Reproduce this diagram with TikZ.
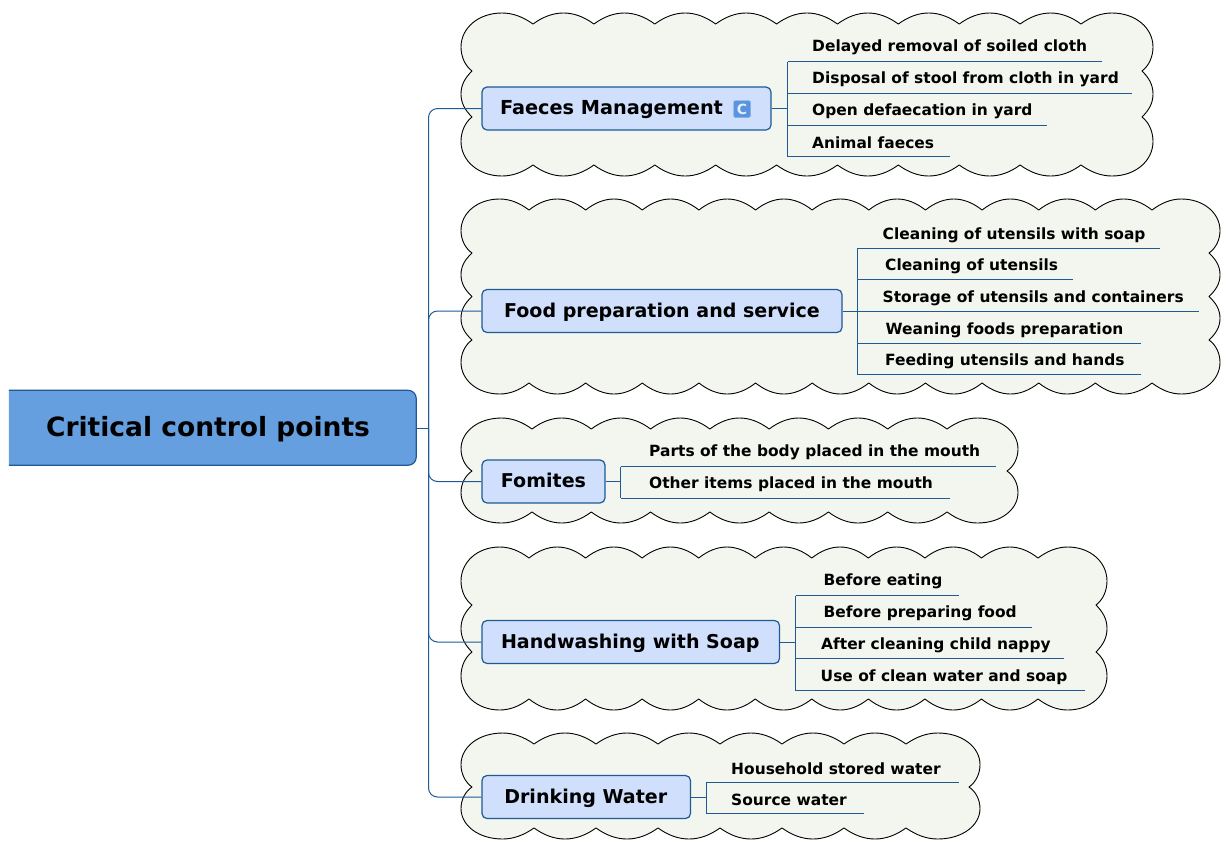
\documentclass[tikz,border=0pt]{standalone}
\usepackage{fontspec}
\setmainfont{DejaVu Sans}
\definecolor{linec}{HTML}{1F5A96}
\definecolor{cloudc}{HTML}{F3F6EE}
\definecolor{topicc}{HTML}{CFDFFC}
\definecolor{rootc}{HTML}{659FDF}
\definecolor{iconc}{HTML}{5A94DE}
\tikzset{
  conn/.style={draw=linec,line width=1pt},
  trunkline/.style={conn,rounded corners=9pt},
  cloudshape/.style={draw=black,fill=cloudc,line width=0.9pt,line join=round},
  topic/.style={draw=linec,fill=topicc,line width=1.2pt,rounded corners=5pt,inner sep=0pt,
    font=\bfseries\fontsize{19.05}{19.05}\selectfont,text height=14.5pt,text depth=2pt},
  leaf/.style={anchor=base west,inner sep=0pt,font=\bfseries\fontsize{15.45}{15.45}\selectfont},
}
% corner piece running from a top/bottom notch to a side notch
\newcommand\cornerF[7]{.. controls ({#1+(#3)*0.86*#5},{#2+(#4)*0.35*#6}) and ({#1+(#3)*0.72*#5},{#2}) .. ({#1+(#3)*0.57*#5},{#2})
 .. controls ({#1+(#3)*0.24*#5},{#2}) and ({#1},{#2+(#4)*0.26*#7}) .. ({#1},{#2+(#4)*0.586*#7})
 .. controls ({#1},{#2+(#4)*0.75*#7}) and ({#1+(#3)*4},{#2+(#4)*0.91*#7}) .. ({#1+(#3)*11},{#2+(#4)*#7})}
% same piece, side notch to top/bottom notch
\newcommand\cornerR[7]{.. controls ({#1+(#3)*4},{#2+(#4)*0.91*#7}) and ({#1},{#2+(#4)*0.75*#7}) .. ({#1},{#2+(#4)*0.586*#7})
 .. controls ({#1},{#2+(#4)*0.26*#7}) and ({#1+(#3)*0.24*#5},{#2}) .. ({#1+(#3)*0.57*#5},{#2})
 .. controls ({#1+(#3)*0.72*#5},{#2}) and ({#1+(#3)*0.86*#5},{#2+(#4)*0.35*#6}) .. ({#1+(#3)*#5},{#2+(#4)*#6})}
% \cloudshape{l}{t}{r}{b}{first notch}{last notch}{n notches}{first side notch y}{last side notch y}{n side notches}
\newcommand\cloudshape[9]{%
  \def\cL{#1}\def\cT{#2}\def\cR{#3}\def\cB{#4}\def\cF{#5}\def\cE{#6}\def\cN{#7}\def\cS{#8}\def\cZ{#9}%
  \cloudshapeC}
\newcommand\cloudshapeC[1]{%
  \pgfmathsetmacro\dx{(\cE-\cF)/(\cN-1)}
  \pgfmathsetmacro\dy{(#1>1)*(\cZ-\cS)/max(#1-1,1)}
  \pgfmathtruncatemacro\nx{\cN-2}
  \pgfmathtruncatemacro\ny{#1-2}
  \pgfmathsetmacro\wL{\cF-\cL}
  \pgfmathsetmacro\wR{\cR-\cE}
  \pgfmathsetmacro\hT{\cS-\cT}
  \pgfmathsetmacro\hB{\cB-\cZ}
  \path[cloudshape] ({\cF},{\cT+11})
    \foreach \i in {0,...,\nx} { .. controls ({\cF+\i*\dx+0.33*\dx},{\cT-3.67}) and ({\cF+\i*\dx+0.67*\dx},{\cT-3.67}) .. ({\cF+\i*\dx+\dx},{\cT+11}) }
    \cornerF{\cR}{\cT}{-1}{1}{\wR}{11}{\hT}
    \ifnum\ny>-1 \foreach \i in {0,...,\ny} { .. controls ({\cR-4},{\cS+\i*\dy+0.15*\dy}) and ({\cR},{\cS+\i*\dy+0.3*\dy}) .. ({\cR},{\cS+\i*\dy+0.5*\dy}) .. controls ({\cR},{\cS+\i*\dy+0.7*\dy}) and ({\cR-4},{\cS+\i*\dy+0.85*\dy}) .. ({\cR-11},{\cS+\i*\dy+\dy}) }\fi
    \cornerR{\cR}{\cB}{-1}{-1}{\wR}{11}{\hB}
    \foreach \i in {0,...,\nx} { .. controls ({\cE-\i*\dx-0.33*\dx},{\cB+3.67}) and ({\cE-\i*\dx-0.67*\dx},{\cB+3.67}) .. ({\cE-\i*\dx-\dx},{\cB-11}) }
    \cornerF{\cL}{\cB}{1}{-1}{\wL}{11}{\hB}
    \ifnum\ny>-1 \foreach \i in {0,...,\ny} { .. controls ({\cL+4},{\cZ-\i*\dy-0.15*\dy}) and ({\cL},{\cZ-\i*\dy-0.3*\dy}) .. ({\cL},{\cZ-\i*\dy-0.5*\dy}) .. controls ({\cL},{\cZ-\i*\dy-0.7*\dy}) and ({\cL+4},{\cZ-\i*\dy-0.85*\dy}) .. ({\cL+11},{\cZ-\i*\dy-\dy}) }\fi
    \cornerR{\cL}{\cT}{1}{1}{\wL}{11}{\hT}
    -- cycle;
}
\begin{document}
\begin{tikzpicture}[x=1pt,y=-1pt]
\useasboundingbox (0,0) rectangle (1224,847);
\newcommand\leaf[7]{%
  \coordinate (#1l) at (#2,#4);
  \coordinate (#1r) at (#3,#4);
  \node[leaf] (#1t) at (#5,#6) {#7};
  \draw[conn] (#1l) -- (#1r);
}
\newcommand\topicbox[7]{% name, l, t, r, b, shift, text
  \pgfmathsetmacro\tw{#4-#2}
  \pgfmathsetmacro\th{#5-#3}
  \node[topic,minimum width=\tw pt,minimum height=\th pt] (#1) at ({(#2+#4)/2},{(#3+#5)/2}) {\kern#6pt #7};
}
% clouds
\cloudshape{461}{13}{1153}{176}{533}{1081}{10}{71}{117}{2}
\cloudshape{461}{199}{1220}{394}{529}{1152}{12}{253}{340}{3}
\cloudshape{461}{418}{1018}{523}{532}{947}{8}{471}{471}{1}
\cloudshape{461}{547}{1107}{710}{529}{1038}{10}{605}{652}{2}
\cloudshape{461}{733}{980}{839}{534}{906}{7}{787}{787}{1}
% root
\node[minimum width=407pt,minimum height=74.5pt,inner sep=0pt] (root) at (212.5,427.75) {};
\fill[rootc] (root.north west) [rounded corners=8pt] -- (root.north east) -- (root.south east) [sharp corners] -- (root.south west) -- cycle;
\draw[conn,line width=1.2pt] (root.north west) [rounded corners=8pt] -- (root.north east) -- (root.south east) [sharp corners] -- (root.south west);
\node[inner sep=0pt,font=\bfseries\fontsize{26.5}{26.5}\selectfont,text height=18pt,text depth=1.5pt] (roottext) at (208,427.75) {Critical control points};
\coordinate (trunk) at (428.5,428.5);
% topics
\topicbox{faeces}{482}{87}{771}{130}{-30}{\fontsize{19.3}{19.3}\selectfont Faeces Management}
\topicbox{food}{482}{289.5}{842}{332.5}{0}{Food preparation and service}
\topicbox{fomites}{482}{460}{605}{503}{0}{Fomites}
\topicbox{hand}{482}{620.5}{779.5}{663.5}{-1}{Handwashing with Soap}
\topicbox{drink}{482}{775.5}{690.5}{818.5}{-1}{Drinking Water}
\node[fill=iconc,draw=iconc!70!white,rounded corners=1.5pt,minimum size=17pt,inner sep=0pt,text=white!85!iconc,font=\bfseries\fontsize{14}{14}\selectfont] (icon) at (742,109) {C};
% trunk connectors
\draw[conn] (root.east |- trunk) -- (trunk);
\foreach \t in {faeces,food,fomites,hand,drink}{
  \draw[trunkline] (\t.west) -| (trunk);
}
% leaves
\leaf{a1}{787.5}{1102}{61.5}{812}{51.5}{Delayed removal of soiled cloth}
\leaf{a2}{787.5}{1132}{93.5}{812}{83.5}{Disposal of stool from cloth in yard}
\leaf{a3}{787.5}{1046.5}{125}{812}{115.5}{Open defaecation in yard}
\leaf{a4}{787.5}{950}{156.5}{812}{148}{Animal faeces}
\draw[conn] (a1l) -- (a4l);
\draw[conn] (faeces.east) -- (faeces.east -| a1l);
\leaf{b1}{857.5}{1159.5}{248}{882.5}{239}{Cleaning of utensils with soap}
\leaf{b2}{857.5}{1073}{279.5}{885}{270.5}{Cleaning of utensils}
\leaf{b3}{857.5}{1198.5}{311.5}{882.5}{302}{Storage of utensils and containers}
\leaf{b4}{857.5}{1141}{343}{885.5}{334}{Weaning foods preparation}
\leaf{b5}{857.5}{1141}{374.5}{885}{365.5}{Feeding utensils and hands}
\draw[conn] (b1l) -- (b5l);
\draw[conn] (food.east) -- (food.east -| b1l);
\leaf{c1}{620.5}{996}{466.5}{649}{456.5}{Parts of the body placed in the mouth}
\leaf{c2}{620.5}{950}{498}{649}{488.5}{Other items placed in the mouth}
\draw[conn] (c1l) -- (c2l);
\draw[conn] (fomites.east) -- (fomites.east -| c1l);
\leaf{d1}{795.5}{958.5}{595.5}{823.5}{585.5}{Before eating}
\leaf{d2}{795.5}{1032}{627}{823.5}{617.5}{Before preparing food}
\leaf{d3}{795.5}{1063.5}{658.5}{821}{649}{After cleaning child nappy}
\leaf{d4}{795.5}{1085}{690.5}{820.5}{681}{Use of clean water and soap}
\draw[conn] (d1l) -- (d4l);
\draw[conn] (hand.east) -- (hand.east -| d1l);
\leaf{e1}{706.5}{958.5}{782}{731}{774}{Household stored water}
\leaf{e2}{706.5}{863.5}{813.5}{731}{805}{Source water}
\draw[conn] (e1l) -- (e2l);
\draw[conn] (drink.east) -- (drink.east -| e1l);
\end{tikzpicture}
\end{document}
